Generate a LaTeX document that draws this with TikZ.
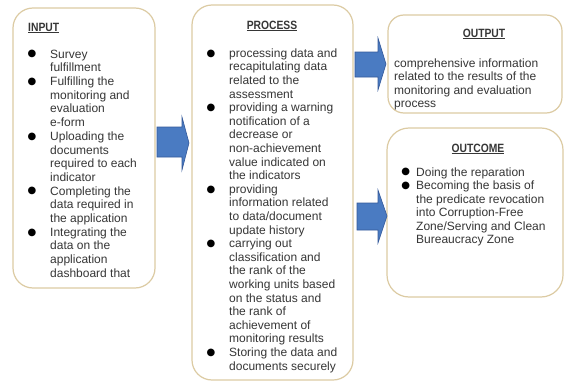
\documentclass[tikz,border=0pt]{standalone}
\usepackage{fontspec}
\setmainfont{Liberation Sans}
\newfontfamily\ttlfont[FakeStretch=0.86]{Liberation Sans}
\newfontfamily\dvs{DejaVu Sans}
\definecolor{boxline}{HTML}{DCCBA3}
\definecolor{txt}{HTML}{363636}
\definecolor{arrfill}{HTML}{4A7BC2}
\definecolor{arrline}{HTML}{34599A}
\newcommand\blt[1]{\strut\llap{\raisebox{1.2pt}{\color{black}\dvs\fontsize{10}{10}\selectfont ●}\hspace{#1pt}}}
\tikzset{
  box/.style={draw=boxline, line width=1.2pt, fill=white, rounded corners=20pt, inner sep=0pt},
  txtnode/.style={anchor=north west, inner sep=0pt, align=left, text=txt},
  ttl/.style={inner sep=0pt, anchor=base, text=txt, font=\ttlfont\bfseries\fontsize{12}{14}\selectfont},
  blockarrow/.style={fill=arrfill, draw=arrline, line width=0.6pt, line join=miter}
}
\begin{document}
\begin{tikzpicture}[x=1pt,y=-1pt]
\useasboundingbox (0,0) rectangle (565,388);
\fill[white] (0,0) rectangle (565,388);
% boxes
\node[box, minimum width=142pt, minimum height=280pt] (input) at (84,148) {};
\node[box, minimum width=161pt, minimum height=375pt] (process) at (272.5,192.5) {};
\node[box, rounded corners=16pt, minimum width=174pt, minimum height=98pt] (output) at (475,64) {};
\node[box, rounded corners=22pt, minimum width=176pt, minimum height=169pt] (outcome) at (475,212.5) {};
% titles
\node[ttl, anchor=base west] (tin) at (28,31) {\underline{INPUT}};
\node[ttl] (tpr) at (272,29) {\underline{PROCESS}};
\node[ttl] (tout) at (484,37) {\underline{OUTPUT}};
\node[ttl] (toc) at (478,152) {\underline{OUTCOME}};
% texts
\node[txtnode, font=\fontsize{12}{13.7}\selectfont] (xin) at (50,48.4) {%
\blt{13.8}Survey\\
fulfillment\\
\blt{13.8}Fulfilling the\\
monitoring and\\
evaluation\\
e-form\\
\blt{13.8}Uploading the\\
documents\\
required to each\\
indicator\\
\blt{13.8}Completing the\\
data required in\\
the application\\
\blt{13.8}Integrating the\\
data on the\\
application\\
dashboard that};
\node[txtnode, font=\fontsize{12}{13.6}\selectfont] (xpr) at (229,47.5) {%
\blt{13.8}processing data and\\
recapitulating data\\
related to the\\
assessment\\
\blt{13.8}providing a warning\\
notification of a\\
decrease or\\
non-achievement\\
value indicated on\\
the indicators\\
\blt{13.8}providing\\
information related\\
to data/document\\
update history\\
\blt{13.8}carrying out\\
classification and\\
the rank of the\\
working units based\\
on the status and\\
the rank of\\
achievement of\\
monitoring results\\
\blt{13.8}Storing the data and\\
documents securely};
\node[txtnode, font=\fontsize{12}{13.5}\selectfont] (xout) at (394,57.5) {%
\strut comprehensive information\\
related to the results of the\\
monitoring and evaluation\\
process};
\node[txtnode, font=\fontsize{12}{13.5}\selectfont] (xoc) at (416,166.5) {%
\blt{6.1}Doing the reparation\\
\blt{6.1}Becoming the basis of\\
the predicate revocation\\
into Corruption-Free\\
Zone/Serving and Clean\\
Bureaucracy Zone};
% block arrows
\path[blockarrow] (157,127) -- (182,127) -- (182,117) -- (189,143) -- (182,170) -- (182,157) -- (157,157) -- cycle;
\path[blockarrow] (355,52) -- (378,52) -- (378,38) -- (386,64) -- (378,90) -- (378,77) -- (355,77) -- cycle;
\path[blockarrow] (357,203) -- (378,203) -- (378,190) -- (387,216) -- (378,243) -- (378,230) -- (357,230) -- cycle;
\end{tikzpicture}
\end{document}
